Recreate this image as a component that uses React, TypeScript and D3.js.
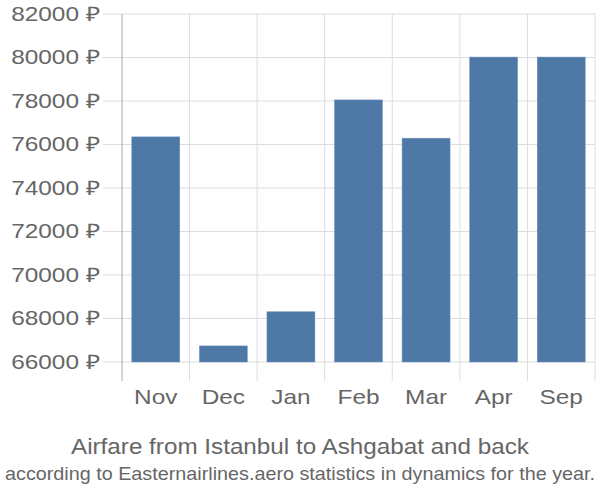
import React from "react";
import * as d3 from "d3";

const months = ["Nov", "Dec", "Jan", "Feb", "Mar", "Apr", "Sep"];
const prices = [76350, 66740, 68310, 78050, 76290, 80020, 80020];
const yTicks = [66000, 68000, 70000, 72000, 74000, 76000, 78000, 80000, 82000];

const W = 600, H = 500;
const left = 122, right = 595, top = 14, axisBottom = 381;
const SX = 1.22;

export default function App() {
  const y = d3.scaleLinear().domain([66000, 82000]).range([362, top]);
  const x = d3.scaleBand<string>().domain(months).range([left, right]).paddingInner(0.29).paddingOuter(0.145);
  const step = x.step();
  const font = "'Liberation Sans', Arial, sans-serif";
  return (
    <svg width={W} height={H} style={{ position: "absolute", left: 0, top: 0 }} fontFamily={font}>
      {months.map((m, i) => (
        <line key={"vg" + m} x1={left + step * (i + 1)} x2={left + step * (i + 1)} y1={top} y2={axisBottom} stroke="#dddddd" strokeWidth={1} />
      ))}
      {yTicks.map((t) => (
        <line key={"hg" + t} x1={103} x2={right} y1={y(t)} y2={y(t)} stroke="#dddddd" strokeWidth={1} />
      ))}
      <line x1={left} x2={left} y1={top} y2={axisBottom} stroke="#aaaaaa" strokeWidth={1} />
      {yTicks.map((t) => (
        <text key={"yl" + t} transform={`translate(100,${y(t)}) scale(${SX},1)`} dy="0.33em" textAnchor="end" fontSize={20} fill="#666666">
          {t} ₽
        </text>
      ))}
      {months.map((m, i) => (
        <rect key={"b" + m} x={x(m)} y={y(prices[i])} width={x.bandwidth()} height={y(66000) - y(prices[i])} fill="#4e79a7" stroke="#6f92bd" strokeWidth={0.5} />
      ))}
      {months.map((m) => (
        <text key={"xl" + m} transform={`translate(${(x(m) as number) + x.bandwidth() / 2},404) scale(${SX},1)`} textAnchor="middle" fontSize={20} fill="#666666">
          {m}
        </text>
      ))}
      <text x={300} y={454} textAnchor="middle" fontSize={22} fill="#666666" textLength={458} lengthAdjust="spacingAndGlyphs">Airfare from Istanbul to Ashgabat and back</text>
      <text x={300} y={480} textAnchor="middle" fontSize={19} fill="#666666" textLength={590} lengthAdjust="spacingAndGlyphs">according to Easternairlines.aero statistics in dynamics for the year.</text>
    </svg>
  );
}
